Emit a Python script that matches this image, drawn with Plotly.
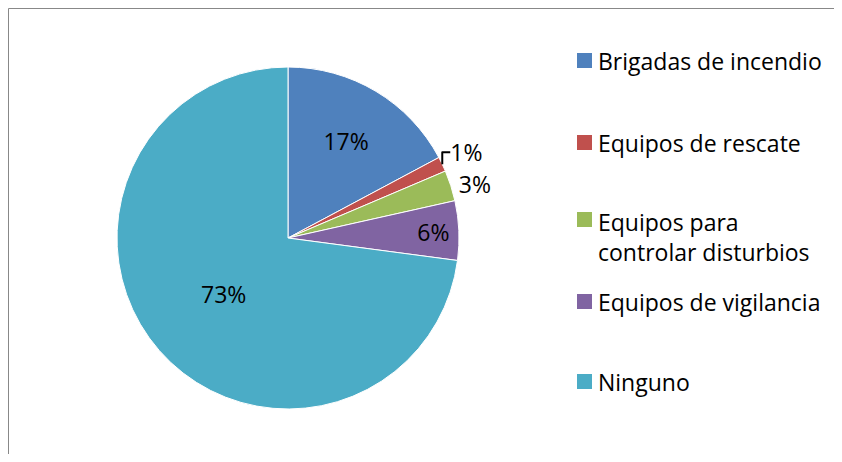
import plotly.graph_objects as go

labels = [
    "Brigadas de incendio",
    "Equipos de rescate",
    "Equipos para<br>controlar disturbios",
    "Equipos de vigilancia",
    "Ninguno",
]
values = [17.2, 1.4, 2.9, 5.6, 72.9]
colors = ["#4F81BD", "#C0504D", "#9BBB59", "#8064A2", "#4BACC6"]
text_positions = ["inside", "outside", "outside", "inside", "inside"]

# the page body has an 8px margin, so the figure is drawn 8px in and down
OFF = 8
W, H = 842 - 2 * OFF, 462 - 2 * OFF
FONT = "Open Sans"


def px_x(x):
    return (x - OFF) / W


def px_y(y):
    return 1 - (y - OFF) / H


fig = go.Figure()
fig.add_trace(
    go.Pie(
        labels=labels,
        values=values,
        sort=False,
        direction="clockwise",
        rotation=0,
        marker=dict(colors=colors, line=dict(color="white", width=1)),
        texttemplate="%{percent:.0%}",
        textposition=text_positions,
        insidetextorientation="horizontal",
        textfont=dict(family=FONT, size=23, color="black"),
        showlegend=False,
        hoverinfo="label+percent",
        domain=dict(x=[px_x(117), px_x(459)], y=[px_y(409), px_y(67)]),
    )
)

# legend drawn by hand so the entries sit where the original has them
legend_y = [61, 143, 237, 302, 382]
shapes = [
    dict(
        type="rect", xref="paper", yref="paper",
        x0=0.5 / W, x1=1.05, y0=-0.05, y1=1 - 0.5 / H,
        line=dict(color="#888888", width=1), fillcolor="rgba(0,0,0,0)",
    )
]
annotations = []
for lab, col, y in zip(labels, colors, legend_y):
    top = y - 17 if "<br>" in lab else y
    shapes.append(
        dict(
            type="rect", xref="paper", yref="paper",
            x0=px_x(577), x1=px_x(592), y0=px_y(top + 7), y1=px_y(top - 8),
            line=dict(width=0), fillcolor=col,
        )
    )
    annotations.append(
        dict(
            text=lab, xref="paper", yref="paper", x=px_x(596), y=px_y(y),
            xanchor="left", yanchor="middle", align="left", showarrow=False,
            font=dict(family=FONT, size=23, color="black"),
        )
    )

fig.update_layout(
    width=W,
    height=H,
    margin=dict(l=0, r=0, t=0, b=0),
    paper_bgcolor="white",
    plot_bgcolor="white",
    shapes=shapes,
    annotations=annotations,
)

fig.write_html("out.html")
